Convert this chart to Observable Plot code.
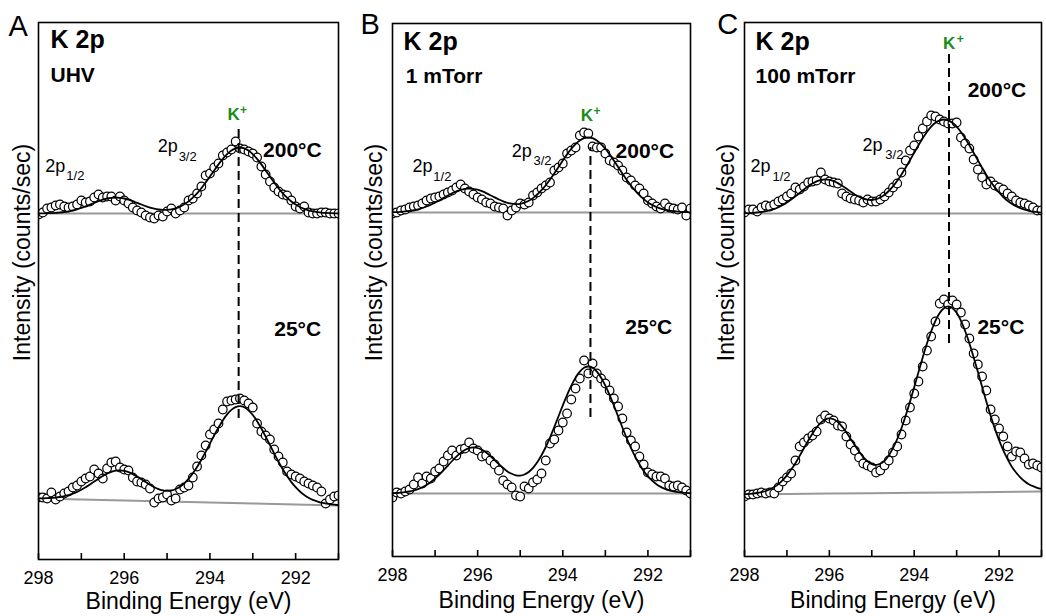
<!DOCTYPE html>
<html>
<head>
<meta charset="utf-8">
<script src="https://cdn.jsdelivr.net/npm/d3@7"></script>
<script src="https://cdn.jsdelivr.net/npm/@observablehq/plot@0.6"></script>
<style>
  body { margin: 0; background: #fff; }
  #wrap { position: relative; width: 1046px; height: 616px; overflow: hidden; background: #fff; }
  #wrap svg { position: absolute; top: 0; }
</style>
</head>
<body>
<div id="wrap"></div>
<script>
// ---------------- data ----------------
const energies = [
  298.0,297.9,297.8,297.7,297.6,297.5,297.4,297.3,297.2,297.1,
  297.0,296.9,296.8,296.7,296.6,296.5,296.4,296.3,296.2,296.1,
  296.0,295.9,295.8,295.7,295.6,295.5,295.4,295.3,295.2,295.1,
  295.0,294.9,294.8,294.7,294.6,294.5,294.4,294.3,294.2,294.1,
  294.0,293.9,293.8,293.7,293.6,293.5,293.4,293.3,293.2,293.1,
  293.0,292.9,292.8,292.7,292.6,292.5,292.4,292.3,292.2,292.1,
  292.0,291.9,291.8,291.7,291.6,291.5,291.4,291.3,291.2,291.1,291.0
];

// Panel A: UHV
const uhv200 = [
  345,347,351,352,354,355,353,352,353,355,
  359,357,358,362,365,362,363,363,359,363,
  359,356,352,349,347,344,342,341,344,343,
  348,351,346,349,352,359,361,366,373,384,
  386,392,396,404,407,410,418,411,410,408,
  406,402,393,385,378,372,368,365,364,359,
  353,351,353,347,346,346,347,347,346,346,346
];
const uhv200Fit = [
  346.1,346.1,346.2,346.4,346.6,347.0,347.5,348.2,349.1,350.2,
  351.6,353.1,354.8,356.6,358.3,359.8,361.0,361.7,362.0,361.7,
  361.0,359.8,358.3,356.6,355.0,353.3,351.9,350.8,350.0,349.6,
  349.7,350.2,351.2,352.8,355.2,358.1,361.9,366.2,371.3,377.0,
  383.0,389.1,395.1,400.6,405.3,409.0,411.2,412.0,411.2,409.0,
  405.3,400.6,395.1,389.1,383.0,377.0,371.3,366.2,361.8,358.0,
  354.9,352.5,350.6,349.2,348.2,347.5,346.9,346.6,346.4,346.2,346.1
];
const uhv25 = [
  62,62,61,67,60,63,66,68,72,74,
  78,81,83,90,86,81,91,97,98,92,
  90,89,82,78,77,75,71,57,61,62,
  65,59,61,70,72,74,82,93,104,114,
  125,130,136,150,158,159,160,161,159,156,
  152,136,128,124,120,110,103,97,88,85,
  83,81,78,76,74,72,68,56,60,63,64
];
const uhv25Fit = [
  61.2,61.2,61.3,61.6,61.9,62.5,63.3,64.4,65.8,67.6,
  69.8,72.2,75.0,77.9,80.8,83.5,85.9,87.7,88.8,89.1,
  88.6,87.4,85.4,83.0,80.3,77.4,74.7,72.3,70.4,69.2,
  68.6,69.0,70.5,72.8,76.2,80.7,86.1,92.5,99.8,107.6,
  116.0,124.1,132.0,139.1,145.1,149.6,152.4,153.3,152.2,149.2,
  144.5,138.3,131.0,122.9,114.5,105.9,97.8,90.2,83.4,77.4,
  72.3,68.0,64.6,61.8,59.6,58.1,56.8,56.0,55.3,54.8,54.4
];

// Panel B: 1 mTorr
const mTorr1_200 = [
  343,344,346,347,349,350,351,353,356,358,
  359,360,362,364,366,369,372,368,365,362,
  359,357,354,353,350,349,348,341,346,349,
  353,352,354,361,364,368,371,374,386,389,
  393,403,406,409,421,424,423,410,409,409,
  403,396,394,391,386,379,376,371,368,363,
  356,353,350,348,353,349,348,347,349,341,348
];
const mTorr1_200Fit = [
  344.3,344.4,344.7,345.1,345.6,346.3,347.2,348.5,350.0,351.8,
  353.9,356.1,358.6,361.0,363.2,365.2,366.7,367.7,368.0,367.7,
  366.8,365.3,363.4,361.3,359.1,357.0,355.1,353.7,352.8,352.4,
  352.7,353.9,355.7,358.4,362.0,366.3,371.3,377.0,383.1,389.5,
  396.0,402.1,407.7,412.4,416.0,418.3,419.0,418.3,416.0,412.4,
  407.7,402.1,396.0,389.5,383.0,376.8,371.0,365.8,361.3,357.4,
  354.1,351.6,349.5,347.9,346.8,345.9,345.3,344.8,344.5,344.3,344.2
];
const mTorr1_25 = [
  59,64,63,65,67,72,79,73,80,78,
  85,88,95,101,106,101,107,108,114,108,
  106,100,101,96,92,86,76,72,69,61,
  60,70,68,74,77,83,96,113,117,126,
  134,143,157,168,178,196,183,193,183,178,
  173,166,158,150,138,124,116,110,100,92,
  84,82,80,80,78,71,70,71,69,66,63
];
const mTorr1_25Fit = [
  63.3,63.5,63.8,64.3,65.0,66.0,67.4,69.2,71.6,74.5,
  78.0,81.9,86.3,90.9,95.5,99.8,103.6,106.5,108.4,109.1,
  108.5,106.7,104.0,100.4,96.4,92.3,88.5,85.1,82.7,81.1,
  80.9,82.0,84.5,88.6,94.2,101.3,109.5,119.0,129.3,140.3,
  151.1,161.4,170.8,178.8,184.9,188.7,190.0,188.7,184.9,178.8,
  170.8,161.4,151.0,140.1,129.0,118.5,108.7,100.0,92.2,85.6,
  80.1,75.8,72.3,69.6,67.7,66.2,65.2,64.4,63.9,63.6,63.4
];

// Panel C: 100 mTorr
const mTorr100_200 = [
  344,347,347,345,349,351,350,352,355,357,
  360,363,369,367,370,374,375,376,384,377,
  375,374,373,363,360,358,357,356,354,357,
  355,355,357,360,364,369,373,384,396,406,
  411,420,428,435,441,440,437,435,433,433,
  434,419,413,408,397,387,379,372,375,371,
  369,367,363,360,356,354,353,351,349,346,346
];
const mTorr100_200Fit = [
  343.2,343.4,343.6,344.0,344.5,345.2,346.3,347.6,349.3,351.5,
  354.1,357.0,360.2,363.6,367.0,370.2,373.0,375.2,376.5,377.1,
  376.6,375.4,373.4,370.8,367.9,364.9,362.1,359.7,357.9,356.8,
  356.5,357.3,359.0,361.7,365.5,370.1,375.7,382.0,389.0,396.3,
  403.8,411.2,418.3,424.5,429.8,433.7,436.2,437.0,436.2,433.7,
  429.8,424.5,418.3,411.2,403.8,396.2,388.8,381.6,375.1,369.1,
  364.0,359.5,355.7,352.7,350.2,348.3,346.8,345.7,344.9,344.3,343.9
];
const mTorr100_25 = [
  60,62,62,63,64,63,64,63,69,75,
  79,83,96,110,114,118,121,125,137,141,
  138,136,131,130,120,112,106,99,93,91,
  89,84,86,91,96,104,110,122,136,149,
  163,175,190,206,220,235,253,257,252,256,
  252,244,232,218,203,192,180,166,147,137,
  128,120,110,100,105,104,98,92,93,91,89
];
const mTorr100_25Fit = [
  62.3,62.6,62.9,63.5,64.4,65.5,67.2,69.5,72.4,76.3,
  81.1,86.9,93.3,100.6,108.1,115.7,122.8,129.0,133.8,136.9,
  138.1,137.2,134.4,129.9,124.2,117.8,111.2,104.9,99.4,95.1,
  92.4,91.6,92.7,95.7,101.0,108.3,117.5,128.3,140.9,154.8,
  169.3,184.3,198.9,212.9,225.2,235.6,243.5,248.3,250.1,248.4,
  243.7,235.9,225.5,213.3,199.3,184.7,169.7,155.1,140.9,127.9,
  116.3,106.1,97.3,89.8,84.0,79.1,75.2,72.3,70.3,68.7,67.6
];

// Backgrounds (grey lines)
const baseEnergies = [298, 297, 296, 295, 294, 293, 292, 291];
const uhv200Base = [346, 346, 346, 346, 346, 346, 346, 346];
const uhv25Base = [61, 60, 59, 58, 57, 56, 55, 54];
const mTorr1_200Base = [344, 344, 344, 344, 344, 344, 344, 344];
const mTorr1_25Base = [63, 63, 63, 63, 63, 63, 63, 63];
const mTorr100_200Base = [343, 343, 343, 343, 343, 343, 343, 343];
const mTorr100_25Base = [62, 62.4, 62.9, 63.3, 63.7, 64.1, 64.6, 65];

// K+ marker energies and the extent of each dashed marker (intensity units)
const kPlusEnergy = [293.33, 293.35, 293.18];
const kPlusFrom = [141, 139, 213];
const kPlusTo = [431, 409, 503];

// Axis ticks
const xTicks = [298, 297, 296, 295, 294, 293, 292, 291];
const xTickLabels = [298, 296, 294, 292];

// Texts
const panelLetters = ["A", "B", "C"];
const conditions = ["UHV", "1 mTorr", "100 mTorr"];
const temperatures = ["200°C", "25°C"];
const yTitle = "Intensity (counts/sec)";
const xTitle = "Binding Energy (eV)";

// ---------------- layout ----------------
const FONT = "'Liberation Sans', Arial, Helvetica, sans-serif";
const GREEN = "#1b8c1b";
const TICK_LEN = 6; // inward tick length (y units = px here)

const panels = [
  {
    left: 0, width: 345, ml: 38, mr: 7, mt: 22, mb: 57, yMax: 537,
    hot: uhv200, hotFit: uhv200Fit, hotBase: uhv200Base,
    cold: uhv25, coldFit: uhv25Fit, coldBase: uhv25Base,
    pos: {
      letter: [298.70, 533], title: [297.72, 520], cond: [297.72, 484.5],
      K: [293.59, 445], plus: [293.30, 449],
      p12: [297.84, 393.5], s12: [297.35, 384],
      p32: [295.22, 413], s32: [294.73, 403],
      hot: [292.76, 409], cold: [292.50, 230.5],
      ytitle: [298.37, 307], xtitle: [294.5, -42.5]
    }
  },
  {
    left: 352, width: 345, ml: 40, mr: 7, mt: 23, mb: 60, yMax: 533,
    hot: mTorr1_200, hotFit: mTorr1_200Fit, hotBase: mTorr1_200Base,
    cold: mTorr1_25, coldFit: mTorr1_25Fit, coldBase: mTorr1_25Base,
    pos: {
      letter: [298.75, 531.5], title: [297.74, 515], cond: [297.69, 480.5],
      K: [293.58, 441], plus: [293.28, 445],
      p12: [297.53, 390], s12: [297.04, 380],
      p32: [295.20, 405], s32: [294.69, 396],
      hot: [292.76, 405.5], cold: [292.53, 229.5],
      ytitle: [298.42, 304], xtitle: [294.5, -44]
    }
  },
  {
    left: 704, width: 342, ml: 40, mr: 5, mt: 22, mb: 60, yMax: 534,
    hot: mTorr100_200, hotFit: mTorr100_200Fit, hotBase: mTorr100_200Base,
    cold: mTorr100_25, coldFit: mTorr100_25Fit, coldBase: mTorr100_25Base,
    pos: {
      letter: [298.64, 531.5], title: [297.74, 515], cond: [297.74, 480.5],
      K: [293.32, 513], plus: [293.0, 517],
      p12: [297.86, 390], s12: [297.34, 380],
      p32: [295.22, 411.5], s32: [294.68, 402],
      hot: [292.74, 466.5], cold: [292.51, 229.5],
      ytitle: [298.42, 304], xtitle: [294.5, -44]
    }
  }
];

function rowsOf(xs, ys, series) {
  return xs.map((x, i) => ({x, y: ys[i], series}));
}

function label(pos, text, opts) {
  return Plot.text([{x: pos[0], y: pos[1], t: text}], {
    x: "x", y: "y", text: "t", textAnchor: "start", lineAnchor: "middle",
    fill: "black", fontFamily: FONT, ...opts
  });
}

function makePanel(p, i) {
  const pts = [...rowsOf(energies, p.hot, "hot"), ...rowsOf(energies, p.cold, "cold")];
  const fits = [...rowsOf(energies, p.hotFit, "hot"), ...rowsOf(energies, p.coldFit, "cold")];
  const bases = [...rowsOf(baseEnergies, p.hotBase, "hot"), ...rowsOf(baseEnergies, p.coldBase, "cold")];
  const dash = [{x: kPlusEnergy[i], y1: kPlusFrom[i], y2: kPlusTo[i]}];
  const ticks = xTicks.map(x => ({x, y1: 0, y2: TICK_LEN}));
  const P = p.pos;

  const svg = Plot.plot({
    width: p.width,
    height: 616,
    marginLeft: p.ml, marginRight: p.mr, marginTop: p.mt, marginBottom: p.mb,
    style: {fontFamily: FONT, background: "transparent", overflow: "visible"},
    x: {domain: [298, 291]},
    y: {domain: [0, p.yMax], axis: null},
    marks: [
      Plot.line(bases, {x: "x", y: "y", z: "series", stroke: "#999999", strokeWidth: 2}),
      Plot.dot(pts, {x: "x", y: "y", r: 4.3, fill: "white", stroke: "black", strokeWidth: 1.2, clip: true}),
      Plot.line(fits, {x: "x", y: "y", z: "series", stroke: "black", strokeWidth: 1.8, curve: "natural", clip: true}),
      Plot.ruleX(dash, {x: "x", y1: "y1", y2: "y2", stroke: "black", strokeWidth: 2, strokeDasharray: "9,5"}),
      Plot.ruleX(ticks, {x: "x", y1: "y1", y2: "y2", stroke: "black", strokeWidth: 1.6}),
      Plot.frame({stroke: "black", strokeWidth: 1.6}),
      Plot.axisX({ticks: xTickLabels, tickSize: 0, tickPadding: 12, fontSize: 18, tickFormat: d => String(d), label: null, fill: "black"}),
      label(P.letter, panelLetters[i], {fontSize: 29}),
      label(P.title, "K 2p", {fontSize: 25, fontWeight: "bold"}),
      label(P.cond, conditions[i], {fontSize: 21, fontWeight: "bold"}),
      label(P.K, "K", {fontSize: 17, fontWeight: "bold", fill: GREEN}),
      label(P.plus, "+", {fontSize: 12, fontWeight: "bold", fill: GREEN}),
      label(P.p12, "2p", {fontSize: 18}),
      label(P.s12, "1/2", {fontSize: 13}),
      label(P.p32, "2p", {fontSize: 18}),
      label(P.s32, "3/2", {fontSize: 13}),
      label(P.hot, temperatures[0], {fontSize: 21, fontWeight: "bold"}),
      label(P.cold, temperatures[1], {fontSize: 21, fontWeight: "bold"}),
      label(P.ytitle, yTitle, {fontSize: 23, textAnchor: "middle", rotate: -90}),
      label(P.xtitle, xTitle, {fontSize: 23, textAnchor: "middle"})
    ]
  });
  svg.style.left = p.left + "px";
  return svg;
}

const wrap = document.getElementById("wrap");
panels.forEach((p, i) => wrap.appendChild(makePanel(p, i)));
</script>
</body>
</html>
